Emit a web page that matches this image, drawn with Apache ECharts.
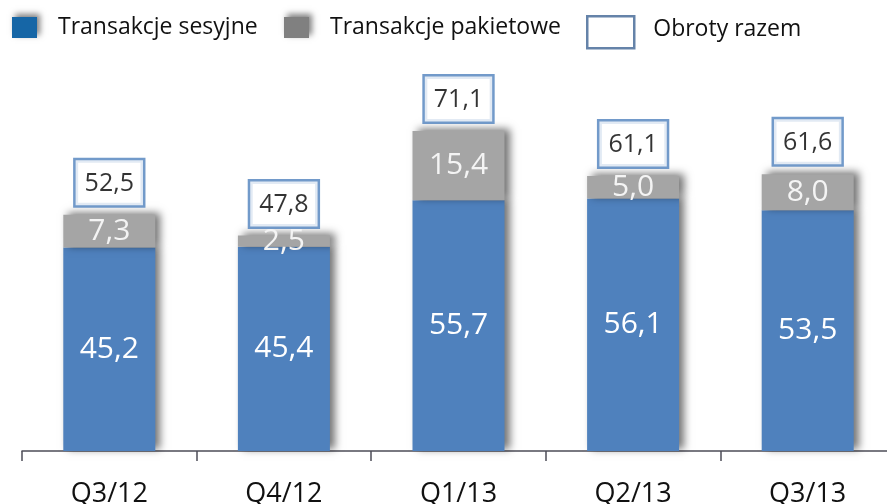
<!DOCTYPE html>
<html>
<head>
<meta charset="utf-8">
<script src="https://cdn.jsdelivr.net/npm/echarts@6/dist/echarts.min.js"></script>
<style>
  html, body { margin: 0; padding: 0; background: #fff; }
  #chart { width: 887px; height: 504px; }
</style>
</head>
<body>
<div id="chart"></div>
<script>
// dane
var kwartaly = ['Q3/12', 'Q4/12', 'Q1/13', 'Q2/13', 'Q3/13'];
var sesyjne = [45.2, 45.4, 55.7, 56.1, 53.5];
var pakietowe = [7.3, 2.5, 15.4, 5.0, 8.0];
var razem = [52.5, 47.8, 71.1, 61.1, 61.6];

var font = 'Open Sans';
function fmt(v) { return v.toFixed(1).replace('.', ','); }

var cieniowanie = {
    shadowBlur: 8,
    shadowOffsetX: 5,
    shadowOffsetY: -2,
    shadowColor: 'rgba(0,0,0,0.55)'
};

var myChart = echarts.init(document.getElementById('chart'));

var option = {
    animation: false,
    textStyle: { fontFamily: font },
    legend: [
        {
            left: 12, top: 16, padding: 0,
            itemWidth: 25, itemHeight: 21,
            textStyle: { fontSize: 23, color: '#111', padding: [2, 0, 0, 16] },
            data: [{
                name: 'Transakcje sesyjne', icon: 'rect',
                itemStyle: { color: '#1666A6', shadowBlur: 6, shadowOffsetX: 3, shadowOffsetY: -3, shadowColor: 'rgba(0,0,0,0.5)' }
            }]
        },
        {
            left: 284, top: 16, padding: 0,
            itemWidth: 25, itemHeight: 21,
            textStyle: { fontSize: 23, color: '#111', padding: [2, 0, 0, 16] },
            data: [{
                name: 'Transakcje pakietowe', icon: 'rect',
                itemStyle: { color: '#808080', shadowBlur: 6, shadowOffsetX: 3, shadowOffsetY: -3, shadowColor: 'rgba(0,0,0,0.5)' }
            }]
        },
        {
            left: 586, top: 15, padding: 0,
            itemWidth: 47, itemHeight: 32,
            formatter: '{t|{name}}',
            textStyle: {
                fontSize: 23, color: '#111',
                rich: { t: { fontSize: 23, color: '#111', fontFamily: font, padding: [0, 0, 5, 14] } }
            },
            data: [{
                name: 'Obroty razem', icon: 'rect',
                itemStyle: { color: '#fff', borderColor: '#3E6494', borderWidth: 2.5 }
            }]
        }
    ],
    grid: { left: 22, right: -8, top: 91, bottom: 53, outerBoundsMode: 'none' },
    xAxis: {
        type: 'category',
        data: kwartaly,
        axisLine: { lineStyle: { color: '#4D4D58', width: 1.5 } },
        axisTick: { show: true, interval: 0, alignWithLabel: false, length: 10, lineStyle: { color: '#4D4D58', width: 1.5 } },
        axisLabel: { fontSize: 27, color: '#111', margin: 30, fontFamily: font }
    },
    yAxis: { type: 'value', min: 0, max: 80, show: false },
    series: [
        {
            name: 'Transakcje sesyjne',
            type: 'bar',
            stack: 'obroty',
            barWidth: 92,
            data: sesyjne,
            itemStyle: Object.assign({ color: '#4F81BD' }, cieniowanie),
            label: {
                show: true, position: 'inside', color: '#fff',
                fontSize: 30, fontFamily: font,
                formatter: function (p) { return fmt(p.value); }
            }
        },
        {
            name: 'Transakcje pakietowe',
            type: 'bar',
            stack: 'obroty',
            barWidth: 92,
            data: pakietowe,
            itemStyle: Object.assign({ color: '#A5A5A5' }, cieniowanie),
            label: {
                show: true, position: 'inside', color: '#F4F4F4',
                fontSize: 30, fontFamily: font,
                formatter: function (p) { return fmt(p.value); }
            }
        },
        {
            name: 'Obroty razem',
            type: 'scatter',
            data: razem,
            symbolSize: 1,
            itemStyle: { color: 'rgba(0,0,0,0)' },
            label: {
                show: true, position: 'top', distance: 9,
                color: '#000', fontSize: 25, fontFamily: font,
                backgroundColor: '#fff',
                borderColor: '#4F81BD', borderWidth: 2.5,
                padding: [11, 9, 9, 9],
                formatter: function (p) { return fmt(p.value); }
            }
        }
    ]
};

myChart.setOption(option);
</script>
</body>
</html>
